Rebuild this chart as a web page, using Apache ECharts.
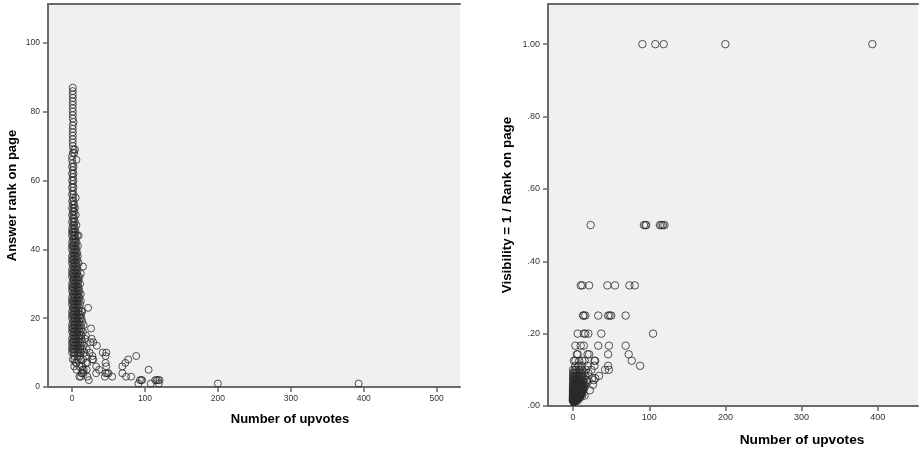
<!DOCTYPE html>
<html><head><meta charset="utf-8">
<script src="https://cdn.jsdelivr.net/npm/echarts@6/dist/echarts.min.js"></script>
<style>html,body{margin:0;padding:0;background:#fff}#c{width:920px;height:453px}</style>
</head><body><div id="c"></div>
<script>
// Upvotes of each answer, grouped by answer rank on page (index 0 = rank 1)
const upvotesByRank = [
  [91,108,119,200,393],
  [23,93,95,96,114,116,118,120],
  [10,12,21,45,55,74,81],
  [13,14,16,33,46,48,50,69],
  [6,14,16,20,37,105],
  [3,10,14,33,47,69],
  [5,6,19,21,46,73],
  [1,8,28,29,77,3,12,15],
  [3,19,28,46,88,7,11],
  [0,2,4,7,9,12,17,24,42,47],
  [0,1,3,5,8,11,14,20],
  [0,2,4,6,9,12,16,34],
  [0,1,3,5,8,11,14,25,29],
  [0,2,4,6,9,13,18,27],
  [1,3,5,7,10,13,19],
  [0,2,4,6,8,11,15],
  [0,1,3,5,7,10,13,26],
  [0,2,4,6,9,12,16],
  [1,3,5,7,10,14],
  [0,2,4,6,8,11,13],
  [0,1,3,5,7,10,12],
  [0,2,4,6,9,13,14],
  [1,3,5,7,10,22],
  [0,2,4,6,8,11],
  [0,1,3,5,7,9,12],
  [0,2,4,6,8,10],
  [1,3,5,7,9,12],
  [0,2,4,6,8,10],
  [0,1,3,5,7,9],
  [0,2,4,6,8,11],
  [1,3,5,7,9],
  [0,2,4,6,8,10],
  [0,1,3,5,7,12],
  [0,2,4,6,8],
  [1,3,5,7,15],
  [0,2,4,6,9],
  [0,1,3,5,7],
  [0,2,4,6,8],
  [1,3,5,7],
  [0,2,4,6],
  [0,1,3,5,8],
  [0,2,4,6],
  [1,3,5],
  [0,2,4,7,9],
  [0,1,3,5],
  [0,2,4],
  [1,3,6],
  [0,2,4],
  [1,3],
  [0,2,5],
  [1,3],
  [0,2,4],
  [1,3],
  [0,2],
  [1,5],
  [0,2],
  [1],
  [0,2],
  [1],
  [0,2],
  [1],
  [0,2],
  [1],
  [0,2],
  [1],
  [0,6],
  [0],
  [1,3],
  [2,4],
  [1],[1],[1],[1],[1],[1],[1],
  [2],
  [1],[1],[1],[1],[1],[1],[1],[1],[1],[1]
];
// Visibility (1 / rank) for ranks 1..87
const visibilityByRank = [
  1, .5, .3333, .25, .2, .1667, .1429, .125, .1111, .1,
  .0909, .0833, .0769, .0714, .0667, .0625, .0588, .0556, .0526, .05,
  .0476, .0455, .0435, .0417, .04, .0385, .037, .0357, .0345, .0333,
  .0323, .0313, .0303, .0294, .0286, .0278, .027, .0263, .0256, .025,
  .0244, .0238, .0233, .0227, .0222, .0217, .0213, .0208, .0204, .02,
  .0196, .0192, .0189, .0185, .0182, .0179, .0175, .0172, .0169, .0167,
  .0164, .0161, .0159, .0156, .0154, .0152, .0149, .0147, .0145, .0143,
  .0141, .0139, .0137, .0135, .0133, .0132, .013, .0128, .0127, .0125,
  .0123, .0122, .012, .0119, .0118, .0116, .0115
];
const xTicksLeft = [0,100,200,300,400,500];
const yTicksLeft = [0,20,40,60,80,100];
const xTicksRight = [0,100,200,300,400];
const yTicksRight = [0,0.2,0.4,0.6,0.8,1];
const yLabelsRight = ['.00','.20','.40','.60','.80','1.00'];

const leftData = [], rightData = [];
upvotesByRank.forEach((list, i) => {
  list.forEach(v => {
    leftData.push([v, i + 1]);
    rightData.push([v, visibilityByRank[i]]);
  });
});

const FONT = 'Liberation Sans, Arial, sans-serif';
const LINE = '#6a6a6a';

function baseAxis(fs, ticks) {
  return {
    type: 'value',
    axisLine: {show: true, onZero: false, lineStyle: {color: LINE, width: 2}},
    axisTick: {show: true, length: 5, customValues: ticks, lineStyle: {color: LINE, width: 1.5}},
    axisLabel: {show: true, customValues: ticks, color: '#333', fontSize: fs, fontFamily: FONT, margin: 8},
    splitLine: {show: false}
  };
}
function topAxis(grid, min, max) {
  return {type: 'value', gridIndex: grid, position: 'top', min, max,
    axisLine: {show: true, onZero: false, lineStyle: {color: LINE, width: 2}},
    axisTick: {show: false}, axisLabel: {show: false}, splitLine: {show: false}};
}

const chart = echarts.init(document.getElementById('c'), null, {renderer: 'canvas'});
chart.setOption({
  animation: false,
  backgroundColor: '#ffffff',
  grid: [
    {left: 48, top: 4, right: 460, bottom: 66, show: true, backgroundColor: '#f0f0f0', borderWidth: 0, outerBoundsMode: 'none'},
    {left: 548, top: 4, right: 2, bottom: 47, show: true, backgroundColor: '#f0f0f0', borderWidth: 0, outerBoundsMode: 'none'}
  ],
  xAxis: [
    Object.assign(baseAxis(8.5, xTicksLeft), {gridIndex: 0, min: -33, max: 532,
      axisLabel: Object.assign(baseAxis(8.5, xTicksLeft).axisLabel, {margin: 7}),
      name: 'Number of upvotes', nameLocation: 'middle', nameGap: 26,
      nameTextStyle: {fontSize: 13, fontWeight: 'bold', color: '#000', fontFamily: FONT, padding: [0, 0, 0, 72]}}),
    topAxis(0, -33, 532),
    Object.assign(baseAxis(9, xTicksRight), {gridIndex: 1, min: -33, max: 453,
      axisLabel: Object.assign(baseAxis(9, xTicksRight).axisLabel, {margin: 7}),
      name: 'Number of upvotes', nameLocation: 'middle', nameGap: 27,
      nameTextStyle: {fontSize: 13.7, fontWeight: 'bold', color: '#000', fontFamily: FONT, padding: [0, 0, 0, 138]}}),
    topAxis(1, -33, 453)
  ],
  yAxis: [
    Object.assign(baseAxis(8.5, yTicksLeft), {gridIndex: 0, min: 0, max: 111.3,
      name: 'Answer rank on page', nameLocation: 'middle', nameGap: 29.5,
      nameTextStyle: {fontSize: 13, fontWeight: 'bold', color: '#000', fontFamily: FONT}}),
    Object.assign(baseAxis(9, yTicksRight), {gridIndex: 1, min: 0, max: 1.111,
      axisLabel: Object.assign(baseAxis(9, yTicksRight).axisLabel, {
        formatter: v => { const k = yTicksRight.findIndex(t => Math.abs(t - v) < 1e-9); return k >= 0 ? yLabelsRight[k] : ''; }}),
      name: 'Visibility = 1 / Rank on page', nameLocation: 'middle', nameGap: 34.5,
      nameTextStyle: {fontSize: 13.4, fontWeight: 'bold', color: '#000', fontFamily: FONT}})
  ],
  series: [
    {type: 'scatter', xAxisIndex: 0, yAxisIndex: 0, data: leftData, symbol: 'circle', symbolSize: 7, silent: true,
      itemStyle: {color: 'rgba(0,0,0,0)', borderColor: '#2a2a2a', borderWidth: 1}},
    {type: 'scatter', xAxisIndex: 2, yAxisIndex: 1, data: rightData, symbol: 'circle', symbolSize: 7.5, silent: true,
      itemStyle: {color: 'rgba(0,0,0,0)', borderColor: '#2a2a2a', borderWidth: 1}}
  ]
});
</script>
</body></html>
